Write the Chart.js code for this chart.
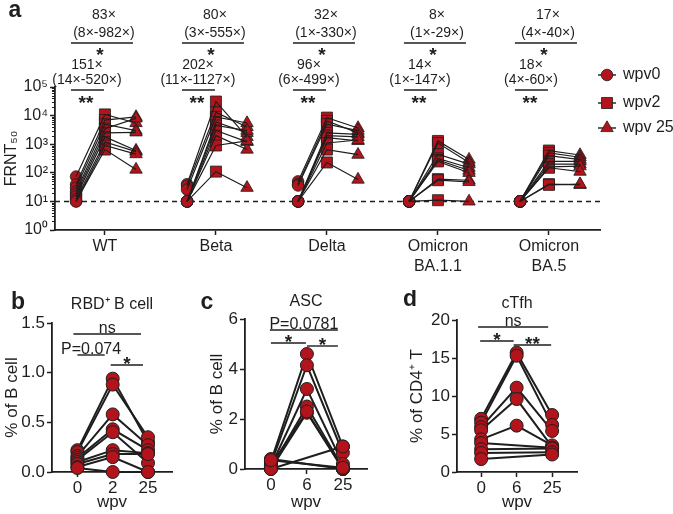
<!DOCTYPE html>
<html><head><meta charset="utf-8">
<script src="https://cdn.jsdelivr.net/npm/chart.js@4.4.0/dist/chart.umd.min.js"></script>
<style>
html,body{margin:0;padding:0;background:#fff;}
#wrap{position:relative;width:673px;height:514px;overflow:hidden;}
canvas{position:absolute;}
</style></head><body>
<div id="wrap">
<canvas id="ca" style="left:0;top:0" width="673" height="292"></canvas>
<canvas id="cb" style="left:0;top:290px" width="215" height="224"></canvas>
<canvas id="cc" style="left:200px;top:290px" width="200" height="224"></canvas>
<canvas id="cd" style="left:395px;top:290px" width="278" height="224"></canvas>
</div>
<script>
// ================= DATA =================
const variants = ['WT', 'Beta', 'Delta', ['Omicron', 'BA.1.1'], ['Omicron', 'BA.5']];
const seriesNames = ['wpv0', 'wpv2', 'wpv 25'];
// FRNT50: one row per variant, one column per subject
const frnt_wpv0 = [
  [74, 39, 30, 22, 18, 15, 12, 10, 10],
  [40, 35, 26, 10, 10, 10, 10, 10, 10],
  [50, 40, 36, 10, 10, 10, 10, 10, 10],
  [10, 10, 10, 10, 10, 10, 10, 10, 10],
  [10, 10, 10, 10, 10, 10, 10, 10, 10]
];
const frnt_wpv2 = [
  [11000, 7000, 5000, 3500, 2500, 1800, 1200, 900, 650],
  [31000, 13000, 9000, 6000, 4500, 3000, 2000, 900, 110],
  [8500, 6500, 5000, 2500, 2000, 1700, 1100, 650, 230],
  [1300, 1100, 450, 320, 280, 250, 60, 55, 11],
  [600, 500, 400, 250, 200, 160, 150, 40, 38]
];
const frnt_wpv25 = [
  [5500, 9000, 3000, 8000, 2600, 600, 550, 450, 130],
  [1800, 4000, 5500, 2500, 3000, 1200, 650, 1300, 30],
  [3700, 2500, 3000, 2200, 1800, 1300, 1400, 430, 58],
  [290, 230, 200, 150, 120, 100, 55, 48, 10],
  [420, 350, 290, 250, 200, 170, 110, 38, 40]
];
const LOD = 10;
const yTicksA = [1, 10, 100, 1000, 10000, 100000];
const yTickLabelsA = ['10⁰', '10¹', '10²', '10³', '10⁴', '10⁵'];
const foldUpper = ['83×', '80×', '32×', '8×', '17×'];
const rangeUpper = ['(8×-982×)', '(3×-555×)', '(1×-330×)', '(1×-29×)', '(4×-40×)'];
const sigUpper = ['*', '*', '*', '*', '*'];
const foldLower = ['151×', '202×', '96×', '14×', '18×'];
const rangeLower = ['(14×-520×)', '(11×-1127×)', '(6×-499×)', '(1×-147×)', '(4×-60×)'];
const sigLower = ['**', '**', '**', '**', '**'];

// panel b
const wpvB = ['0', '2', '25'];
const rbd_wpv0  = [0.22, 0.20, 0.16, 0.14, 0.12, 0.10, 0.08, 0.05, 0.04];
const rbd_wpv2  = [0.94, 0.88, 0.58, 0.43, 0.40, 0.22, 0.18, 0.15, 0.00];
const rbd_wpv25 = [0.30, 0.35, 0.27, 0.22, 0.09, 0.19, 0.18, 0.00, 0.00];
const yTicksB = [0, 0.5, 1.0, 1.5];
const yTickLabelsB = ['0.0', '0.5', '1.0', '1.5'];
// panel c
const wpvC = ['0', '6', '25'];
const asc_wpv0  = [0.30, 0.20, 0.10, 0.05, 0.00, 0.15, 0.00, 0.40, 0.35];
const asc_wpv6  = [4.60, 4.15, 3.20, 2.50, 2.25, 2.30, null, null, null];
const asc_wpv25 = [0.90, 0.65, 0.20, 0.05, 0.00, 0.00, 0.90, 0.00, 0.05];
const yTicksC = [0, 2, 4, 6];
const yTickLabelsC = ['0', '2', '4', '6'];
// panel d
const wpvD = ['0', '6', '25'];
const tfh_wpv0  = [7.0, 6.5, 5.9, 5.5, 4.3, 3.8, 3.0, 2.5, 1.7];
const tfh_wpv6  = [15.7, 15.3, 11.1, 9.6, 6.1, null, null, null, null];
const tfh_wpv25 = [7.5, 6.2, 5.4, 3.3, 3.5, 3.2, 3.1, 2.6, 2.3];
const yTicksD = [0, 5, 10, 15, 20];
const yTickLabelsD = ['0', '5', '10', '15', '20'];

// ================= STYLE =================
const RED = '#b3131b';
const INK = '#1e1e1e';
const FONT = '"Liberation Sans", Arial, Helvetica, sans-serif';
Chart.defaults.font.family = FONT;
Chart.defaults.color = INK;

function drawMarker(ctx, style, r, x, y) {
  ctx.save();
  ctx.fillStyle = RED; ctx.strokeStyle = INK; ctx.lineWidth = 0.8;
  if (Chart.helpers && Chart.helpers.drawPoint) {
    Chart.helpers.drawPoint(ctx, {pointStyle: style, radius: r, borderWidth: 0.8, rotation: 0}, x, y);
  } else {
    ctx.beginPath(); ctx.arc(x, y, r, 0, Math.PI * 2); ctx.fill(); ctx.stroke();
  }
  ctx.restore();
}
function hline(ctx, x1, x2, y, w) {
  ctx.save(); ctx.strokeStyle = INK; ctx.lineWidth = w || 1.4;
  ctx.beginPath(); ctx.moveTo(x1, y); ctx.lineTo(x2, y); ctx.stroke(); ctx.restore();
}
function text(ctx, s, x, y, font, align, base) {
  ctx.save(); ctx.fillStyle = INK; ctx.font = font;
  ctx.textAlign = align || 'center'; ctx.textBaseline = base || 'middle';
  ctx.fillText(s, x, y); ctx.restore();
}
// star glyph centred vertically at y
function stars(ctx, s, x, y) {
  text(ctx, s, x, y + 11, 'bold 19px ' + FONT, 'center', 'alphabetic');
}

function axisCommon(extra) {
  return Object.assign({
    grid: {display: true, drawOnChartArea: false, drawTicks: true, tickLength: 5, color: INK, tickColor: INK, tickWidth: 1.5},
    border: {display: true, color: INK, width: 1.8}
  }, extra);
}

// ================= PANEL A =================
(function () {
  const cv = document.getElementById('ca');
  const W = cv.width, H = cv.height;
  const area = {left: 55, top: 87, right: 600, bottom: 230};
  const offs = [-0.26, 0, 0.28];
  const series = [frnt_wpv0, frnt_wpv2, frnt_wpv25];
  const styles = ['circle', 'rect', 'triangle'];
  const radii = [5.8, 7.8, 7.2];
  const nSub = frnt_wpv0[0].length;
  const datasets = [];
  for (let s = 0; s < nSub; s++) {
    const pts = [];
    variants.forEach((v, i) => {
      series.forEach((ser, k) => pts.push({x: i + 1 + offs[k], y: ser[i][s]}));
      pts.push({x: i + 1.6, y: null});
    });
    datasets.push({type: 'line', data: pts, borderColor: INK, borderWidth: 1.2, pointRadius: 0,
      spanGaps: false, fill: false, tension: 0, order: 0, clip: false});
  }
  series.forEach((ser, k) => {
    datasets.push({type: 'scatter', label: seriesNames[k],
      data: ser.flatMap((vals, i) => vals.map(v => ({x: i + 1 + offs[k], y: v}))),
      pointStyle: styles[k], pointRadius: radii[k], backgroundColor: RED, borderColor: INK,
      borderWidth: 0.8, showLine: false, order: 1, clip: false});
  });
  datasets.push({type: 'line', data: [{x: 0.55, y: LOD}, {x: 5.46, y: LOD}], borderColor: INK,
    borderWidth: 1.5, borderDash: [5, 4], pointRadius: 0, order: 2});

  const deco = {
    id: 'decoA',
    afterDraw(chart) {
      const ctx = chart.ctx, xs = chart.scales.x, ys = chart.scales.y;
      // minor ticks
      ctx.save(); ctx.strokeStyle = INK; ctx.lineWidth = 1;
      for (let d = 1; d < 100000; d *= 10) {
        for (let k = 2; k <= 9; k++) {
          const y = Math.round(ys.getPixelForValue(k * d)) + 0.5;
          ctx.beginPath(); ctx.moveTo(ys.right - 3, y); ctx.lineTo(ys.right, y); ctx.stroke();
        }
      }
      ctx.restore();
      // fold-change annotations
      const f = '14px ' + FONT;
      variants.forEach((v, i) => {
        const c = xs.getPixelForValue(i + 1);
        text(ctx, foldUpper[i], c - 1, 15, f);
        text(ctx, rangeUpper[i], c - 1, 33, f);
        hline(ctx, c - 34, c + 28, 43);
        stars(ctx, sigUpper[i], c - 5, 50);
        text(ctx, foldLower[i], c - 18, 65, f);
        text(ctx, rangeLower[i], c - 18, 80, f);
        hline(ctx, c - 34, c - 1, 90);
        stars(ctx, sigLower[i], c - 19, 98);
      });
      // panel letter
      text(ctx, 'a', 15, 11, 'bold 23px ' + FONT);
      // legend
      const ly = [75, 103, 128];
      chart.data.datasets.filter(d => d.label).forEach((d, k) => {
        hline(ctx, 598, 616, ly[k], 1.4);
        drawMarker(ctx, d.pointStyle, d.pointRadius, 607, ly[k]);
        text(ctx, d.label, 623, ly[k], '16px ' + FONT, 'left', 'middle');
      });
    }
  };

  new Chart(cv, {
    data: {datasets},
    options: {
      responsive: false, animation: false, devicePixelRatio: 1, events: [],
      layout: {padding: {left: 0, top: area.top, right: W - area.right, bottom: 0}},
      plugins: {legend: {display: false}, tooltip: {enabled: false}},
      scales: {
        x: axisCommon({type: 'linear', min: 0.55, max: 5.46,
          afterBuildTicks: s => { s.ticks = variants.map((v, i) => ({value: i + 1})); },
          ticks: {callback: (v, i) => variants[i], font: {size: 16, lineHeight: 1.25}, color: INK,
            padding: 2, maxRotation: 0, autoSkip: false},
          afterFit: s => { s.height = H - area.bottom; }
        }),
        y: axisCommon({type: 'logarithmic', min: 1, max: 100000,
          afterBuildTicks: s => { s.ticks = yTicksA.map(v => ({value: v})); },
          ticks: {callback: (v, i) => yTickLabelsA[i], font: {size: 16}, color: INK, padding: 2, autoSkip: false},
          title: {display: true, text: 'FRNT₅₀', font: {size: 16}, color: INK, padding: {top: 2, bottom: 0}},
          afterFit: s => { s.width = area.left; }
        })
      }
    },
    plugins: [deco]
  });
})();

// ================= PANELS B-D =================
function panel(cfg) {
  const cv = document.getElementById(cfg.id);
  const W = cv.width, H = cv.height;
  const a = {left: cfg.area.left - cfg.ox, right: cfg.area.right - cfg.ox,
             top: cfg.area.top - cfg.oy, bottom: cfg.area.bottom - cfg.oy};
  const n = cfg.series[0].length;
  const datasets = [];
  for (let s = 0; s < n; s++) {
    datasets.push({type: 'line', data: cfg.series.map((ser, t) => ({x: t, y: ser[s]})),
      borderColor: INK, borderWidth: 2, pointRadius: 0, spanGaps: true, fill: false,
      tension: 0, order: 1, clip: false});
  }
  const pts = [];
  cfg.series.forEach((ser, t) => ser.forEach(v => { if (v !== null) pts.push({x: t, y: v}); }));
  datasets.push({type: 'scatter', data: pts, pointStyle: 'circle', pointRadius: 6.5,
    backgroundColor: RED, borderColor: INK, borderWidth: 1, order: 0, clip: false});

  const deco = {
    id: 'deco_' + cfg.id,
    afterDraw(chart) {
      const ctx = chart.ctx, xs = chart.scales.x;
      const px = v => xs.getPixelForValue(v);
      const ar = chart.chartArea;
      text(ctx, cfg.letter, cfg.letterPos[0] - cfg.ox, cfg.letterPos[1] - cfg.oy, 'bold 23px ' + FONT);
      text(ctx, cfg.title, (ar.left + ar.right) / 2 + (cfg.titleDx || 0), cfg.titleY - cfg.oy, '16px ' + FONT);
      cfg.brackets.forEach(b => {
        const x1 = px(b.from) + b.dx1, x2 = px(b.to) + b.dx2, y = b.y - cfg.oy;
        hline(ctx, x1, x2, y, 1.4);
        const cx = (x1 + x2) / 2 + (b.tdx || 0);
        if (b.star) stars(ctx, b.label, cx, y - 6);
        else text(ctx, b.label, cx, y - 1.5, '16px ' + FONT, 'center', 'alphabetic');
      });
    }
  };

  new Chart(cv, {
    data: {datasets},
    options: {
      responsive: false, animation: false, devicePixelRatio: 1, events: [],
      layout: {padding: {left: 0, top: a.top, right: W - a.right, bottom: 0}},
      plugins: {legend: {display: false}, tooltip: {enabled: false}},
      scales: {
        x: axisCommon({type: 'linear', min: cfg.xmin, max: cfg.xmax,
          afterBuildTicks: s => { s.ticks = cfg.xLabels.map((l, i) => ({value: i})); },
          ticks: {callback: (v, i) => cfg.xLabels[i], font: {size: 17}, color: INK, padding: 1, maxRotation: 0, autoSkip: false},
          title: {display: true, text: 'wpv', font: {size: 17}, color: INK, padding: {top: 0, bottom: 1}},
          afterFit: s => { s.height = H - a.bottom; }
        }),
        y: axisCommon({type: 'linear', min: 0, max: cfg.yTicks[cfg.yTicks.length - 1],
          afterBuildTicks: s => { s.ticks = cfg.yTicks.map(v => ({value: v})); },
          ticks: {callback: (v, i) => cfg.yLabels[i], font: {size: 17}, color: INK, padding: 2, autoSkip: false},
          title: {display: true, text: cfg.yTitle, font: {size: 17}, color: INK, padding: {top: cfg.yTitlePad, bottom: 0}},
          afterFit: s => { s.width = a.left; }
        })
      }
    },
    plugins: [deco]
  });
}

panel({id: 'cb', ox: 0, oy: 290, area: {left: 52, top: 323, right: 172, bottom: 472},
  series: [rbd_wpv0, rbd_wpv2, rbd_wpv25], xLabels: wpvB, xmin: -0.72, xmax: 2.68,
  yTicks: yTicksB, yLabels: yTickLabelsB, yTitle: '% of B cell', yTitlePad: 2,
  letter: 'b', letterPos: [18, 303], title: 'RBD⁺ B cell', titleY: 305,
  brackets: [
    {from: 0, to: 2, dx1: -4, dx2: -7, y: 334, label: 'ns'},
    {from: 0, to: 1, dx1: 0, dx2: -8, y: 355, label: 'P=0.074'},
    {from: 1, to: 2, dx1: -2, dx2: -5, y: 365, label: '*', star: true}
  ]});

panel({id: 'cc', ox: 200, oy: 290, area: {left: 245, top: 319, right: 367, bottom: 469},
  series: [asc_wpv0, asc_wpv6, asc_wpv25], xLabels: wpvC, xmin: -0.72, xmax: 2.67,
  yTicks: yTicksC, yLabels: yTickLabelsC, yTitle: '% of B cell', yTitlePad: 7,
  letter: 'c', letterPos: [207, 303], title: 'ASC', titleY: 302,
  brackets: [
    {from: 0, to: 2, dx1: -1, dx2: -5, y: 330, label: 'P=0.0781'},
    {from: 0, to: 1, dx1: 0, dx2: -1, y: 343, label: '*', star: true},
    {from: 1, to: 2, dx1: 0, dx2: -5, y: 346, label: '*', star: true}
  ]});

panel({id: 'cd', ox: 395, oy: 290, area: {left: 457, top: 320, right: 577, bottom: 472},
  series: [tfh_wpv0, tfh_wpv6, tfh_wpv25], xLabels: wpvD, xmin: -0.68, xmax: 2.70,
  yTicks: yTicksD, yLabels: yTickLabelsD, yTitle: '% of CD4⁺ T', yTitlePad: 12,
  letter: 'd', letterPos: [410, 300], title: 'cTfh', titleY: 304,
  brackets: [
    {from: 0, to: 2, dx1: -3, dx2: -4, y: 327, label: 'ns'},
    {from: 0, to: 1, dx1: -1, dx2: -3, y: 341, label: '*', star: true},
    {from: 1, to: 2, dx1: -3, dx2: -1, y: 345, label: '**', star: true}
  ]});
</script>
</body></html>
